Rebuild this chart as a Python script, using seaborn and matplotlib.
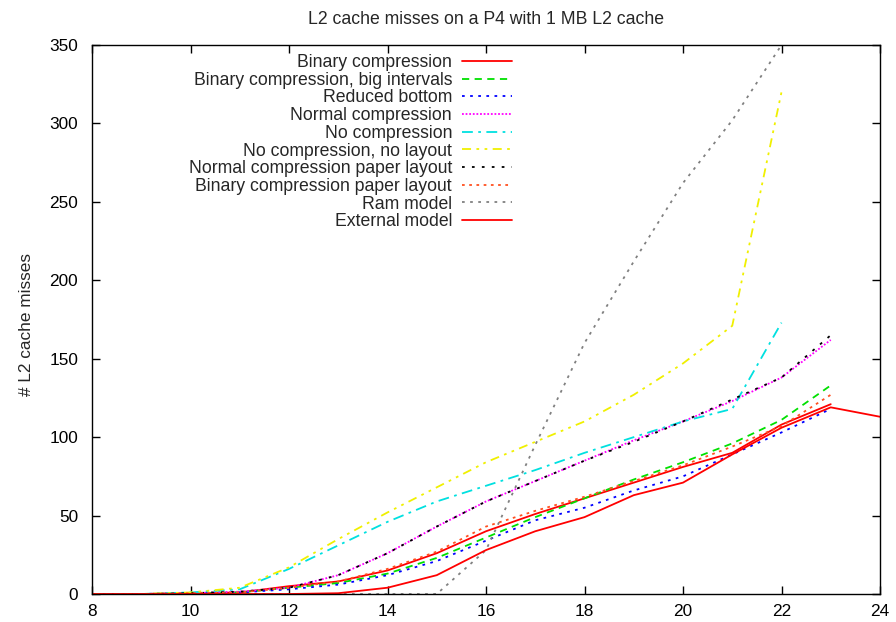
import matplotlib
matplotlib.use("Agg")
import matplotlib.pyplot as plt
import seaborn as sns
import numpy as np
import pandas as pd

x_main = [8, 9, 10, 11, 12, 13, 14, 15, 16, 17, 18, 19, 20, 21, 22, 23]
x_to22 = [8, 9, 10, 11, 12, 13, 14, 15, 16, 17, 18, 19, 20, 21, 22]
x_ext = [8, 9, 10, 11, 12, 13, 14, 15, 16, 17, 18, 19, 20, 21, 22, 23, 24]

binary = [0, 0, 0.5, 1, 5, 8, 15, 26, 40, 51, 61, 71, 81, 90, 108, 121]
binary_big = [0, 0, 0.5, 1, 4, 7, 13, 23, 36, 49, 61, 73, 84, 96, 111, 133]
reduced_bottom = [0, 0, 0.5, 1, 3, 6, 12, 21, 34, 47, 55, 66, 75, 89, 103, 118]
normal = [0, 0, 0.5, 1.5, 4, 12, 26, 43, 59, 72, 85, 98, 110, 123, 138, 162]
no_comp = [0, 0, 1, 3, 16, 31, 46, 59, 69, 79, 90, 100, 110, 118, 173]
no_comp_no_layout = [0, 0, 1, 4, 17, 35, 52, 68, 84, 97, 110, 127, 147, 171, 320]
normal_paper = [0, 0, 0.5, 1.5, 4, 12, 26, 43, 59, 72, 85, 97, 110, 124, 138, 165]
binary_paper = [0, 0, 0.5, 1, 4, 8, 16, 27, 43, 53, 62, 72, 82, 94, 107, 127]
ram_model = [0, 0, 0, 0, 0, 0, 0, 0, 28, 95, 160, 212, 262, 302, 350]
external = [0, 0, 0, 0, 0, 0.5, 4, 12, 28, 40, 49, 63, 71, 89, 106, 119, 113]

labels = ["Binary compression", "Binary compression, big intervals", "Reduced bottom",
          "Normal compression", "No compression", "No compression, no layout",
          "Normal compression paper layout", "Binary compression paper layout",
          "Ram model", "External model"]

series = [
    (x_main, binary, "#ff0000", (None, None)),
    (x_main, binary_big, "#00e000", (4, 3)),
    (x_main, reduced_bottom, "#0000ff", (1.5, 3)),
    (x_main, normal, "#ff00ff", (1, 1)),
    (x_to22, no_comp, "#00e0e0", (6, 3, 1.5, 3)),
    (x_to22, no_comp_no_layout, "#f0f000", (5, 3, 1.5, 3, 1.5, 3)),
    (x_main, normal_paper, "#000000", (1.5, 4)),
    (x_main, binary_paper, "#ff5020", (1.5, 2.5)),
    (x_to22, ram_model, "#808080", (1.5, 3)),
    (x_ext, external, "#ff0000", (None, None)),
]

sns.set_style("ticks")
plt.rcParams['font.family'] = ['Liberation Sans', 'DejaVu Sans']

fig = plt.figure(figsize=(8.96, 6.22), dpi=100)
ax = fig.add_axes([92/896, 1-594/622, (880-92)/896, (594-45)/622])

for (xs, ys, col, dash), lab in zip(series, labels):
    df = pd.DataFrame({"x": xs, "y": ys})
    sns.lineplot(data=df, x="x", y="y", ax=ax, color=col, lw=1.3, label=lab)
    line = ax.get_lines()[-1]
    if dash[0] is not None:
        line.set_dashes(dash)

ax.set_xlim(8, 24)
ax.set_ylim(0, 350)
ax.set_xticks(range(8, 25, 2))
ax.set_yticks(range(0, 351, 50))
ax.tick_params(direction="in", top=True, right=True, length=6, width=1, labelsize=12.4, colors="black")
ax.tick_params(axis="x", pad=7)
ax.tick_params(axis="y", pad=10)
for sp in ax.spines.values():
    sp.set_visible(True)
    sp.set_linewidth(1)
    sp.set_color("black")
ax.set_xlabel("")
ax.set_ylabel("# L2 cache misses", fontsize=12.4)
ax.yaxis.set_label_coords((34-92)/788, 0.49)
ax.set_title("L2 cache misses on a P4 with 1 MB L2 cache", fontsize=12.7, pad=15)

leg = ax.legend(loc="upper right", bbox_to_anchor=(512/896, 1-54/622),
                bbox_transform=fig.transFigure, frameon=False, markerfirst=False,
                fontsize=12.7, handlelength=2.85, labelspacing=0.04, handletextpad=0.55,
                borderaxespad=0, borderpad=0)

fig.savefig("out.png", dpi=100)
